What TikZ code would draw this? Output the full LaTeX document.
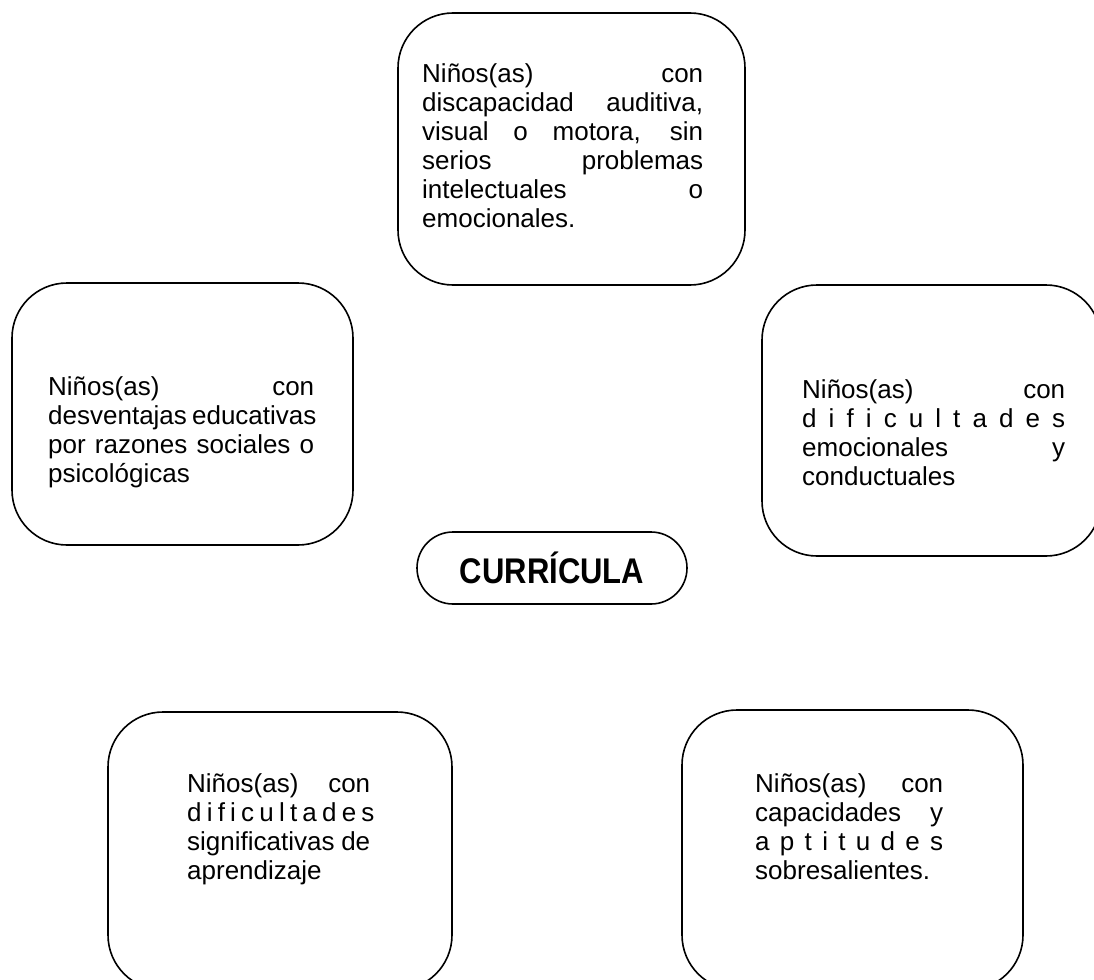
\documentclass[tikz,border=0pt]{standalone}
\usepackage{fontspec}
\setmainfont{Liberation Sans}
\usepackage{tikz}
\usetikzlibrary{calc}
\newlength{\cardw}
\newcommand{\fullline}[1]{\makebox[\cardw][s]{\spaceskip=.28em plus 1fil minus .08em\relax #1}\\}

\begin{document}
\begin{tikzpicture}[x=1pt, y=-1pt,
		card/.style={draw, line width=1.6pt, rounded corners=55pt, inner sep=0pt},
		cardtext/.style={anchor=north west, inner sep=0pt, align=left, text width=#1,
			execute at begin node={\setlength{\cardw}{#1}}, font=\fontsize{26}{29}\selectfont},
		pill/.style={draw, line width=1.6pt, rounded corners=36pt, minimum width=270pt, minimum height=72pt, font=\bfseries\fontsize{31}{31}\selectfont}]
			%%%%% START %%%%%
			
			\clip (0, 0) rectangle (1094, 979);
			\fill[white] (0, 0) rectangle (1094, 979);
			
			\node[card, minimum width=347pt, minimum height=272pt] (top) at (571.5, 149) {};
			\node[cardtext=281pt] (toptext) at (422, 63) {\fullline{Niños(as) con}\fullline{discapacidad auditiva,}\fullline{visual o motora, sin}\fullline{serios problemas}\fullline{intelectuales o}emocionales.};
			
			\node[card, minimum width=341pt, minimum height=262pt] (left) at (182.5, 414) {};
			\node[cardtext=266pt] (lefttext) at (48, 376) {\fullline{Niños(as) con}\fullline{desventajas educativas}\fullline{por razones sociales o}psicológicas};
			
			\node[card, minimum width=339pt, minimum height=271pt] (right) at (931.5, 420.5) {};
			\node[cardtext=263pt] (righttext) at (802, 379) {\fullline{Niños(as) con}\fullline{d i f i c u l t a d e s}\fullline{emocionales y}conductuales};
			
			\node[pill] (curricula) at (552, 568) {\scalebox{1}[1.15]{CURRÍCULA}};
			
			\node[card, minimum width=344pt, minimum height=278pt] (botleft) at (280, 851) {};
			\node[cardtext=183pt] (botlefttext) at (187, 773) {\fullline{Niños(as) con}\fullline{d i f i c u l t a d e s}\fullline{significativas de}aprendizaje};
			
			\node[card, minimum width=341pt, minimum height=280pt] (botright) at (852.5, 850) {};
			\node[cardtext=188pt] (botrighttext) at (755, 773) {\fullline{Niños(as) con}\fullline{capacidades y}\fullline{a p t i t u d e s}sobresalientes.};
			
			%%%%% END %%%%%
\end{tikzpicture}
\end{document}
